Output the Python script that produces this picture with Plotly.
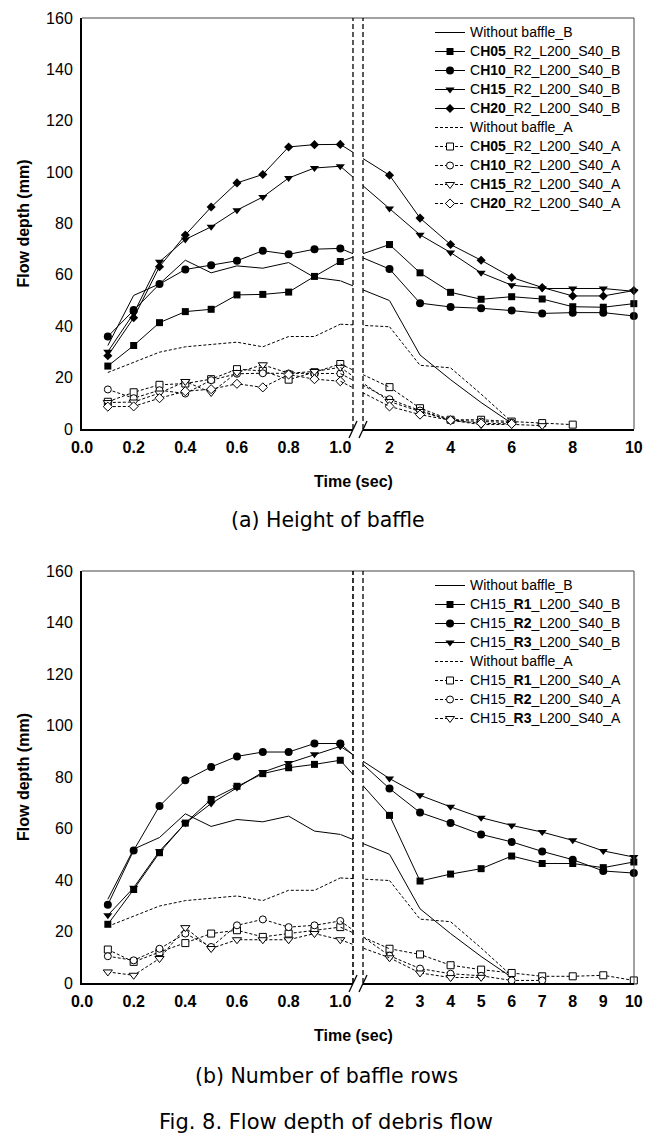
import plotly.graph_objects as go

W, H = 663, 1138


def px(x):
    return x / W


def py(y):
    return 1 - y / H


# ---------------- data ----------------
t_left = [0.1, 0.2, 0.3, 0.4, 0.5, 0.6, 0.7, 0.8, 0.9, 1.0]
t_right = [2, 3, 4, 5, 6, 7, 8, 9, 10]

wb_B_left = [32.5, 52.0, 56.5, 65.7, 60.8, 63.5, 62.6, 64.8, 59.0, 57.7]
wb_B_right = [50.0, 28.8, 19.2, 10.3, 2.2]
wb_A_left = [22.0, 25.8, 29.9, 32.0, 33.0, 33.8, 32.0, 36.0, 36.0, 40.8]
wb_A_right = [39.8, 24.8, 23.8, 13.6, 2.8]

# (a) Height of baffle
ch05_B_left = [24.5, 32.5, 41.4, 45.7, 46.6, 52.2, 52.4, 53.3, 59.4, 65.2]
ch05_B_right = [71.8, 60.8, 53.2, 50.5, 51.5, 50.6, 47.6, 47.4, 48.8]
ch10_B_left = [36.0, 46.3, 56.4, 62.1, 63.7, 65.5, 69.4, 68.0, 70.0, 70.3]
ch10_B_right = [62.3, 49.0, 47.5, 47.0, 46.1, 45.0, 45.3, 45.3, 44.0]
ch15_B_left = [30.1, 45.0, 65.1, 73.8, 78.7, 85.2, 90.3, 97.7, 101.6, 102.3]
ch15_B_right = [85.8, 75.6, 68.7, 60.8, 56.0, 54.7, 54.7, 54.7, 53.6]
ch20_B_left = [28.5, 43.3, 63.2, 75.5, 86.4, 95.8, 99.1, 109.8, 110.7, 110.8]
ch20_B_right = [98.8, 82.1, 71.8, 65.7, 59.0, 55.1, 51.8, 51.8, 53.9]

ch05_A_left = [10.6, 14.3, 17.2, 17.7, 19.4, 23.3, 22.6, 19.2, 22.1, 25.3]
ch05_A_right = [16.3, 8.1, 3.6, 3.6, 2.9, 2.3, 1.7]
ch10_A_left = [15.4, 12.0, 15.1, 13.8, 19.0, 21.5, 21.7, 21.6, 21.5, 21.6]
ch10_A_right = [11.6, 7.2, 3.4, 2.9, 2.5]
ch15_A_left = [10.3, 10.5, 14.0, 18.5, 14.2, 22.0, 25.0, 21.7, 22.4, 24.0]
ch15_A_right = [10.7, 6.8, 3.4, 1.7, 1.8, 1.3]
ch20_A_left = [8.7, 8.8, 12.0, 14.7, 15.5, 17.6, 16.2, 21.2, 19.4, 18.6]
ch20_A_right = [8.8, 5.6, 3.4, 2.2, 2.0]

# (b) Number of baffle rows
r1_B_left = [22.8, 36.3, 50.6, 62.1, 71.3, 76.4, 81.3, 83.6, 84.9, 86.5]
r1_B_right = [65.1, 39.6, 42.3, 44.4, 49.3, 46.4, 46.4, 44.8, 47.0]
r2_B_left = [30.4, 51.5, 68.7, 78.7, 83.9, 88.0, 89.7, 89.7, 93.0, 93.0]
r2_B_right = [75.5, 66.2, 62.1, 57.7, 54.8, 51.1, 47.9, 43.5, 42.7]
r3_B_left = [26.3, 37.0, 51.2, 62.0, 69.7, 75.9, 81.9, 85.4, 88.8, 91.9]
r3_B_right = [79.4, 72.9, 68.4, 64.2, 61.2, 58.6, 55.4, 51.3, 48.9]

r1_A_left = [13.0, 8.2, 12.0, 15.5, 19.2, 20.5, 17.9, 19.2, 20.5, 21.7]
r1_A_right = [13.3, 11.1, 6.9, 5.2, 3.9, 2.6, 2.6, 3.0, 1.0]
r2_A_left = [10.4, 8.8, 13.3, 19.2, 14.0, 22.4, 24.7, 21.7, 22.4, 24.1]
r2_A_right = [10.6, 5.6, 3.6, 2.8, 1.0, 1.0]
r3_A_left = [4.3, 3.0, 9.5, 21.5, 13.4, 16.8, 16.8, 16.8, 19.2, 16.8]
r3_A_right = [9.8, 3.9, 2.1, 2.2]

x_ticks_left = [0.0, 0.2, 0.4, 0.6, 0.8, 1.0]
x_ticks_right_a = [2, 4, 6, 8, 10]
x_ticks_right_b = [2, 3, 4, 5, 6, 7, 8, 9, 10]
y_ticks = [0, 20, 40, 60, 80, 100, 120, 140, 160]

# ---------------- geometry (pixels) ----------------
X0, X1 = 82, 634          # plot frame
X_T1 = 340.3              # position of t = 1.0
X_T2 = 389.5              # position of t = 2
BRK_L, BRK_R = 353, 363   # break lines
PX_PER_SEC_L = (X_T1 - X0) / 1.0
PX_PER_SEC_R = 30.54
PX_PER_SEC_C = X_T2 - X_T1

FONT = "Liberation Sans"

panels = [
    dict(top=18, bottom=429, yax="y", xs=["x", "x2", "x3", "x4"], legend="legend",
         rticks=x_ticks_right_a, leg_top=18),
    dict(top=571, bottom=983, yax="y2", xs=["x5", "x6", "x7", "x8"], legend="legend2",
         rticks=x_ticks_right_b, leg_top=571),
]

solid = dict(color="black", width=1)
dashed = dict(color="black", width=1, dash="3px,2px")


def filled(sym, size):
    return dict(symbol=sym, size=size, color="black", line=dict(color="black", width=0))


def hollow(sym, size):
    return dict(symbol=sym, size=size, color="white", line=dict(color="black", width=1))


def lg(text):
    return '<span style="font-size:14px">' + text + "</span>"


series_a = [
    ("Without baffle_B", wb_B_left, wb_B_right, solid, None),
    ("C<b>H05</b>_R2_L200_S40_B", ch05_B_left, ch05_B_right, solid, filled("square", 7)),
    ("C<b>H10</b>_R2_L200_S40_B", ch10_B_left, ch10_B_right, solid, filled("circle", 8)),
    ("C<b>H15</b>_R2_L200_S40_B", ch15_B_left, ch15_B_right, solid, filled("triangle-down", 8)),
    ("C<b>H20</b>_R2_L200_S40_B", ch20_B_left, ch20_B_right, solid, filled("diamond", 7)),
    ("Without baffle_A", wb_A_left, wb_A_right, dashed, None),
    ("C<b>H05</b>_R2_L200_S40_A", ch05_A_left, ch05_A_right, dashed, hollow("square", 7)),
    ("C<b>H10</b>_R2_L200_S40_A", ch10_A_left, ch10_A_right, dashed, hollow("circle", 7)),
    ("C<b>H15</b>_R2_L200_S40_A", ch15_A_left, ch15_A_right, dashed, hollow("triangle-down", 8)),
    ("C<b>H20</b>_R2_L200_S40_A", ch20_A_left, ch20_A_right, dashed, hollow("diamond", 7)),
]
series_b = [
    ("Without baffle_B", wb_B_left, wb_B_right, solid, None),
    ("CH15_<b>R1</b>_L200_S40_B", r1_B_left, r1_B_right, solid, filled("square", 7)),
    ("CH15_<b>R2</b>_L200_S40_B", r2_B_left, r2_B_right, solid, filled("circle", 8)),
    ("CH15_<b>R3</b>_L200_S40_B", r3_B_left, r3_B_right, solid, filled("triangle-down", 8)),
    ("Without baffle_A", wb_A_left, wb_A_right, dashed, None),
    ("CH15_<b>R1</b>_L200_S40_A", r1_A_left, r1_A_right, dashed, hollow("square", 7)),
    ("CH15_<b>R2</b>_L200_S40_A", r2_A_left, r2_A_right, dashed, hollow("circle", 7)),
    ("CH15_<b>R3</b>_L200_S40_A", r3_A_left, r3_A_right, dashed, hollow("triangle-down", 8)),
]

fig = go.Figure()

for panel, series in zip(panels, [series_a, series_b]):
    xl, xr, xcl, xcr = panel["xs"]
    yax = panel["yax"]
    for name, left, right, line, marker in series:
        mode = "lines+markers" if marker else "lines"
        kw = dict(marker=marker) if marker else {}
        fig.add_trace(go.Scatter(x=t_left, y=left, mode=mode, line=line, name=lg(name),
                                 xaxis=xl, yaxis=yax, legend=panel["legend"],
                                 cliponaxis=False, **kw))
        # segments crossing the axis break (clipped at each side of the break)
        for xc in (xcl, xcr):
            fig.add_trace(go.Scatter(x=[t_left[-1], t_right[0]], y=[left[-1], right[0]],
                                     mode="lines", line=line, showlegend=False,
                                     xaxis=xc, yaxis=yax, hoverinfo="skip"))
        fig.add_trace(go.Scatter(x=t_right[:len(right)], y=right, mode=mode, line=line,
                                 name=name, showlegend=False, xaxis=xr, yaxis=yax,
                                 cliponaxis=False, **kw))

tickfont = dict(family=FONT, size=16, color="black")
layout = dict(
    width=W, height=H, autosize=False,
    margin=dict(l=0, r=0, t=0, b=0, pad=0, autoexpand=False),
    paper_bgcolor="white", plot_bgcolor="rgba(0,0,0,0)",
    showlegend=True,
)

shapes = []
annotations = []


def axname(a):
    return "xaxis" if a == "x" else "xaxis" + a[1:]


for i, panel in enumerate(panels):
    xl, xr, xcl, xcr = panel["xs"]
    yax = panel["yax"]
    top, bot = panel["top"], panel["bottom"]
    ydom = [py(bot), py(top)]
    yname = "yaxis" if yax == "y" else "yaxis" + yax[1:]
    layout[yname] = dict(domain=ydom, range=[0, 160], anchor=xl, tickvals=y_ticks,
                         showgrid=False, zeroline=False, showline=True, linecolor="black",
                         linewidth=2, ticks="", tickfont=tickfont, automargin=False,
                         tickprefix="<b>", ticksuffix="</b>", ticklabelstandoff=4,
                         fixedrange=True)
    common = dict(anchor=yax, showgrid=False, zeroline=False, ticks="", fixedrange=True,
                  automargin=False)
    layout[axname(xl)] = dict(domain=[px(X0), px(BRK_L)],
                              range=[0, (BRK_L - X0) / PX_PER_SEC_L],
                              tickvals=x_ticks_left,
                              ticktext=["<b>%.1f</b>" % v for v in x_ticks_left],
                              showline=True, linecolor="black", linewidth=2,
                              tickfont=tickfont, ticklabelstandoff=3, **common)
    layout[axname(xr)] = dict(domain=[px(BRK_R), px(X1)],
                              range=[2 - (X_T2 - BRK_R) / PX_PER_SEC_R,
                                     2 + (X1 - X_T2) / PX_PER_SEC_R],
                              tickvals=panel["rticks"],
                              ticktext=["<b>%d</b>" % v for v in panel["rticks"]],
                              showline=True, linecolor="black", linewidth=2,
                              tickfont=tickfont, ticklabelstandoff=3, **common)
    layout[axname(xcl)] = dict(domain=[px(X_T1), px(BRK_L)],
                               range=[1, 1 + (BRK_L - X_T1) / PX_PER_SEC_C],
                               visible=False, **common)
    layout[axname(xcr)] = dict(domain=[px(BRK_R), px(X_T2)],
                               range=[1 + (BRK_R - X_T1) / PX_PER_SEC_C, 2],
                               visible=False, **common)

    # frame: top and right borders
    shapes.append(dict(type="line", xref="paper", yref="paper", x0=px(X0), x1=px(X1),
                       y0=py(top), y1=py(top), line=dict(color="#444", width=1)))
    shapes.append(dict(type="line", xref="paper", yref="paper", x0=px(X1), x1=px(X1),
                       y0=py(top), y1=py(bot), line=dict(color="#444", width=1)))
    # break lines
    for bx, w in ((BRK_L, 1.6 if i else 1.3), (BRK_R, 1.3)):
        shapes.append(dict(type="line", xref="paper", yref="paper", x0=px(bx), x1=px(bx),
                           y0=py(bot), y1=py(top),
                           line=dict(color="black", width=w, dash="5px,3px")))
        shapes.append(dict(type="line", xref="paper", yref="paper",
                           x0=px(bx - 4), x1=px(bx + 4), y0=py(bot + 9), y1=py(bot - 8),
                           line=dict(color="black", width=1.3)))

    mid = (top + bot) / 2
    annotations.append(dict(text="<b>Flow depth (mm)</b>", textangle=-90, xref="paper",
                            yref="paper", x=px(23), y=py(mid), showarrow=False,
                            xanchor="center", yanchor="middle",
                            font=dict(family=FONT, size=16, color="black")))
    annotations.append(dict(text="<b>Time (sec)</b>", xref="paper", yref="paper",
                            x=px(353), y=py(bot + 52), showarrow=False,
                            xanchor="center", yanchor="middle",
                            font=dict(family=FONT, size=16, color="black")))

cap_font = dict(family="DejaVu Sans", size=20.5, color="black")
annotations.append(dict(text="(a) Height of baffle", xref="paper", yref="paper",
                        x=px(328), y=py(520), showarrow=False, xanchor="center",
                        yanchor="middle", font=cap_font))
annotations.append(dict(text="(b) Number of baffle rows", xref="paper", yref="paper",
                        x=px(326), y=py(1076), showarrow=False, xanchor="center",
                        yanchor="middle", font=cap_font))
annotations.append(dict(text="Fig. 8. Flow depth of debris flow", xref="paper",
                        yref="paper", x=px(326), y=py(1122), showarrow=False,
                        xanchor="center", yanchor="middle",
                        font=dict(family="DejaVu Sans", size=21, color="black")))

legend_common = dict(xanchor="left", yanchor="top", bgcolor="rgba(0,0,0,0)",
                     font=dict(family=FONT, size=12, color="black"),
                     itemwidth=30, tracegroupgap=0)
layout["legend"] = dict(x=px(430), y=py(panels[0]["leg_top"]), **legend_common)
layout["legend2"] = dict(x=px(430), y=py(panels[1]["leg_top"]), **legend_common)
layout["shapes"] = shapes
layout["annotations"] = annotations

fig.update_layout(**layout)
fig.write_html("out.html",
               config={"displayModeBar": False, "staticPlot": True},
               post_script="document.body.style.margin='0px';"
                           "document.body.style.overflow='hidden';")
